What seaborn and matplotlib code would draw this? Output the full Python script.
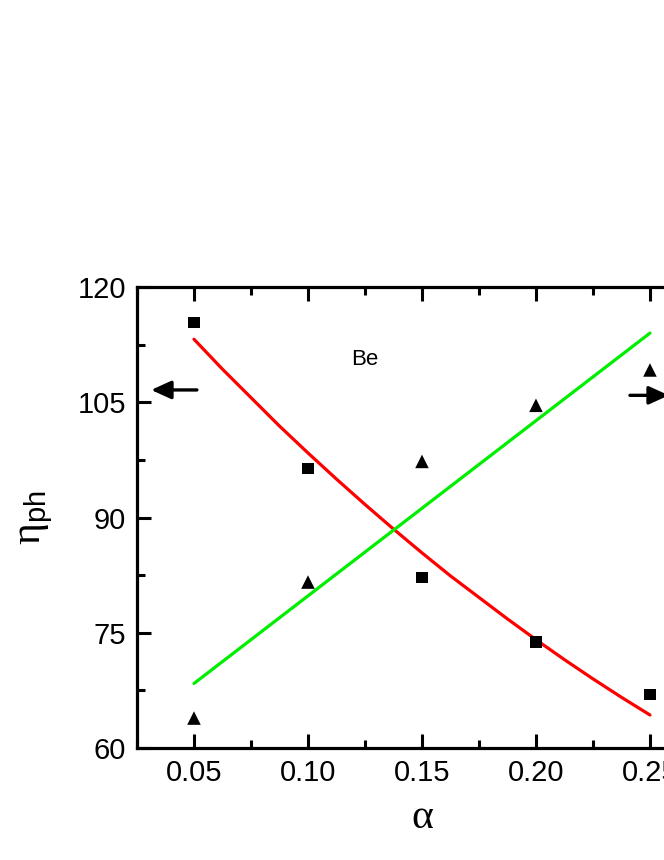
#!/usr/bin/env python3

import numpy as np
import pandas as pd
import seaborn as sns
import matplotlib.pyplot as plt
from matplotlib.ticker import MultipleLocator

# ==========================
# DATA
# ==========================
alpha = [0.05, 0.10, 0.15, 0.20, 0.25]
eta_square = [115.4, 96.4, 82.2, 73.8, 67.0]      # left axis points
eta_triangle = [63.9, 81.6, 97.3, 104.6, 109.2]   # right axis points (same visual scale)

# red fit curve, sampled along the drawn line
red_x = [0.05, 0.0625, 0.075, 0.0875, 0.10, 0.1125, 0.125, 0.1375, 0.15,
         0.1625, 0.175, 0.1875, 0.20, 0.2125, 0.225, 0.2375, 0.25]
red_y = [113.2, 109.3, 105.6, 101.9, 98.4, 95.0, 91.7, 88.5, 85.4,
         82.4, 79.6, 76.8, 74.1, 71.5, 69.0, 66.6, 64.3]

# green fit line
green_x = [0.05, 0.25]
green_y = [68.4, 114.0]

# ==========================
# STYLE
# ==========================
sns.set_style("ticks")
plt.rcParams['font.family'] = ['Liberation Sans', 'DejaVu Sans']
plt.rcParams['mathtext.fontset'] = 'custom'
plt.rcParams['mathtext.rm'] = 'Liberation Sans'
plt.rcParams['mathtext.sf'] = 'Liberation Sans'
plt.rcParams['text.color'] = 'black'
plt.rcParams['axes.labelcolor'] = 'black'
plt.rcParams['xtick.color'] = 'black'
plt.rcParams['ytick.color'] = 'black'
plt.rcParams['axes.edgecolor'] = 'black'

fig = plt.figure(figsize=(6.64, 8.6), dpi=100)
ax = fig.add_axes([0.2063, 0.1302, 0.8584, 0.5361])

df_sq = pd.DataFrame({"alpha": alpha, "eta": eta_square})
df_tr = pd.DataFrame({"alpha": alpha, "eta": eta_triangle})
df_red = pd.DataFrame({"alpha": red_x, "eta": red_y})
df_green = pd.DataFrame({"alpha": green_x, "eta": green_y})

sns.lineplot(data=df_red, x="alpha", y="eta", ax=ax, color="#ff0000", lw=2.3,
             sort=True, estimator=None)
sns.lineplot(data=df_green, x="alpha", y="eta", ax=ax, color="#00ee00", lw=2.3,
             sort=True, estimator=None)
sns.scatterplot(data=df_sq, x="alpha", y="eta", ax=ax, marker="s", s=65,
                color="black", edgecolor="none", zorder=5)
sns.scatterplot(data=df_tr, x="alpha", y="eta", ax=ax, marker="^", s=95,
                color="black", edgecolor="none", zorder=5)

ax.set_xlim(0.025, 0.275)
ax.set_ylim(60, 120)
ax.xaxis.set_minor_locator(MultipleLocator(0.025))
ax.yaxis.set_major_locator(MultipleLocator(15))
ax.yaxis.set_minor_locator(MultipleLocator(7.5))
ax.set_xticks([0.05, 0.10, 0.15, 0.20, 0.25])
ax.set_xticklabels(["0.05", "0.10", "0.15", "0.20", "0.25"])

for s in ax.spines.values():
    s.set_linewidth(2.3)
    s.set_color("black")
ax.tick_params(which="both", direction="in", top=True, right=True,
               width=2.2, labelsize=21, pad=8, colors="black")
ax.tick_params(which="major", length=10)
ax.tick_params(which="minor", length=6)

ax.set_xlabel("α", fontsize=30, labelpad=8, family="Liberation Serif")
ax.set_ylabel(r"η$_{\mathsf{ph}}$", fontsize=30, labelpad=16,
              family="Liberation Serif")

ax.text(0.125, 110.5, "Be", fontsize=16, ha="center", va="center")

# arrows pointing to each axis
ax.annotate("", xy=(0.030, 106.6), xytext=(0.0525, 106.6),
            arrowprops=dict(arrowstyle="-|>,head_length=0.55,head_width=0.25",
                            color="black", lw=2.4, mutation_scale=22))
ax.annotate("", xy=(0.2595, 105.9), xytext=(0.2400, 105.9),
            arrowprops=dict(arrowstyle="-|>,head_length=0.55,head_width=0.25",
                            color="black", lw=2.4, mutation_scale=22))

plt.savefig("out.png", dpi=100)
plt.close()
